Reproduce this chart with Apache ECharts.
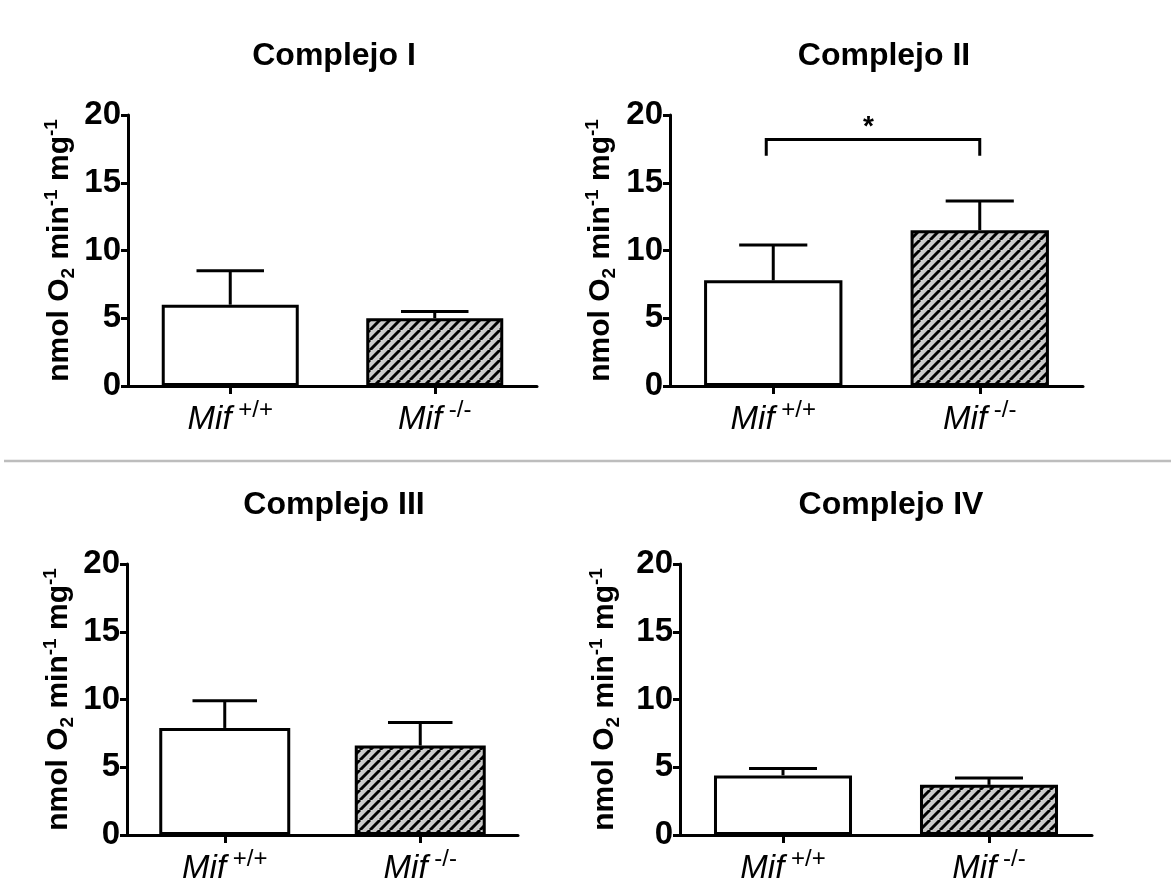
<!DOCTYPE html>
<html>
<head>
<meta charset="utf-8">
<script src="https://cdn.jsdelivr.net/npm/echarts@6.0.0/dist/echarts.min.js"></script>
<style>
html, body { margin: 0; padding: 0; background: #ffffff; }
#chart { width: 1171px; height: 880px; }
</style>
</head>
<body>
<div id="chart"></div>
<script>
// ---------- data ----------
const genotypes = ['+/+', '-/-'];
const panelTitles = ['Complejo I', 'Complejo II', 'Complejo III', 'Complejo IV'];
const yTicks = [0, 5, 10, 15, 20];

const meanI = [6.0, 5.0];
const semI = [2.5, 0.5];
const meanII = [7.8, 11.5];
const semII = [2.6, 2.15];
const meanIII = [7.9, 6.6];
const semIII = [2.0, 1.7];
const meanIV = [4.4, 3.7];
const semIV = [0.5, 0.5];

// significance bracket in Complejo II: [fromCat, toCat, legBottom, barLevel, starLevel, label]
const sigII = [[0, 1, 17.0, 18.2, 19.1, '*']];

const means = [meanI, meanII, meanIII, meanIV];
const sems = [semI, semII, semIII, semIV];

// ---------- layout / style ----------
const FONT = 'Liberation Sans, Arial, Helvetica, sans-serif';
const grids = [
  { left: 128, top: 115, width: 409, height: 271 },
  { left: 670, top: 115, width: 413, height: 271 },
  { left: 127, top: 564, width: 391, height: 271 },
  { left: 680, top: 564, width: 412, height: 271 }
];
const titleX = [329, 879, 329, 886];
const titleTop = [35, 35, 484, 484];
const nameGaps = [50, 51, 50, 57];

function hatchCanvas() {
  const s = 10;
  const c = document.createElement('canvas');
  c.width = s; c.height = s;
  const g = c.getContext('2d');
  g.fillStyle = '#c9c9c9';
  g.fillRect(0, 0, s, s);
  g.strokeStyle = '#000000';
  g.lineWidth = 3;
  g.beginPath();
  for (const k of [-s, 0, s]) {
    g.moveTo(k, s);
    g.lineTo(k + s, 0);
  }
  g.stroke();
  return c;
}
const hatchFill = { image: hatchCanvas(), repeat: 'repeat' };

const axisName = '{m|nmol O}{sub|2}{m| min}{sup|-1}{m| mg}{sup|-1}';

const option = {
  backgroundColor: '#ffffff',
  animation: false,
  title: panelTitles.map((t, i) => ({
    text: t,
    left: titleX[i],
    top: titleTop[i],
    textAlign: 'center',
    textStyle: { fontSize: 32, fontWeight: 'bold', fontFamily: FONT, color: '#000' }
  })),
  grid: grids.map(g => Object.assign({ containLabel: false, outerBoundsMode: 'none' }, g)),
  xAxis: grids.map((g, i) => ({
    type: 'category',
    gridIndex: i,
    data: genotypes,
    axisLine: { show: true, lineStyle: { color: '#000', width: 3 } },
    axisTick: { show: true, alignWithLabel: true, length: 8, lineStyle: { color: '#000', width: 3 } },
    axisLabel: {
      margin: 12,
      interval: 0,
      formatter: v => '{i|Mif}{s| ' + v + '}',
      rich: {
        i: { fontStyle: 'italic', fontSize: 33, fontFamily: FONT, color: '#000', lineHeight: 38, verticalAlign: 'bottom' },
        s: { fontSize: 24, fontFamily: FONT, color: '#000', lineHeight: 24, verticalAlign: 'top' }
      }
    },
    splitLine: { show: false }
  })),
  yAxis: grids.map((g, i) => ({
    type: 'value',
    gridIndex: i,
    min: yTicks[0],
    max: yTicks[yTicks.length - 1],
    interval: yTicks[1] - yTicks[0],
    axisLine: { show: true, lineStyle: { color: '#000', width: 3 } },
    axisTick: { show: true, length: 7, lineStyle: { color: '#000', width: 3 } },
    axisLabel: { fontSize: 33, fontWeight: 'bold', fontFamily: FONT, color: '#000', margin: 7 },
    splitLine: { show: false },
    name: axisName,
    nameLocation: 'middle',
    nameRotate: 90,
    nameGap: nameGaps[i],
    nameMoveOverlap: false,
    nameTextStyle: {
      rich: {
        m: { fontSize: 30, fontWeight: 'bold', fontFamily: FONT, color: '#000', lineHeight: 36 },
        sub: { fontSize: 19, fontWeight: 'bold', fontFamily: FONT, color: '#000', lineHeight: 19, verticalAlign: 'bottom' },
        sup: { fontSize: 19, fontWeight: 'bold', fontFamily: FONT, color: '#000', lineHeight: 19, verticalAlign: 'top' }
      }
    }
  })),
  graphic: [{
    type: 'line',
    shape: { x1: 4, y1: 461, x2: 1171, y2: 461 },
    style: { stroke: '#bdbdbd', lineWidth: 2.5 },
    silent: true
  }],
  series: []
};

means.forEach((m, i) => {
  option.series.push({
    type: 'bar',
    xAxisIndex: i,
    yAxisIndex: i,
    barCategoryGap: '33%',
    data: m.map((v, k) => ({
      value: v,
      itemStyle: { color: k === 0 ? '#ffffff' : hatchFill, borderColor: '#000', borderWidth: 3 }
    })),
    z: 2
  });
  option.series.push({
    type: 'custom',
    xAxisIndex: i,
    yAxisIndex: i,
    data: m.map((v, k) => [k, v, v + sems[i][k]]),
    encode: { x: 0, y: [1, 2] },
    z: 3,
    renderItem: (params, api) => {
      const lo = api.coord([api.value(0), api.value(1)]);
      const hi = api.coord([api.value(0), api.value(2)]);
      const hw = api.size([1, 0])[0] * 0.165;
      return {
        type: 'group',
        children: [
          { type: 'line', shape: { x1: lo[0], y1: lo[1], x2: hi[0], y2: hi[1] }, style: { stroke: '#000', lineWidth: 3 } },
          { type: 'line', shape: { x1: hi[0] - hw, y1: hi[1], x2: hi[0] + hw, y2: hi[1] }, style: { stroke: '#000', lineWidth: 3 } }
        ]
      };
    }
  });
});

option.series.push({
  type: 'custom',
  xAxisIndex: 1,
  yAxisIndex: 1,
  data: sigII,
  encode: { x: [0, 1], y: [2, 3, 4] },
  z: 4,
  renderItem: (params, api) => {
    const a = api.coord([api.value(0), api.value(2)]);
    const b = api.coord([api.value(0), api.value(3)]);
    const c = api.coord([api.value(1), api.value(3)]);
    const d = api.coord([api.value(1), api.value(2)]);
    const s = api.coord([api.value(0), api.value(4)]);
    const label = sigII[params.dataIndex][5];
    const off = 7;
    return {
      type: 'group',
      children: [
        { type: 'polyline', shape: { points: [[a[0] - off, a[1]], [b[0] - off, b[1]], c, d] }, style: { stroke: '#000', lineWidth: 3, fill: null } },
        { type: 'text', style: { text: label, x: (b[0] + c[0]) / 2 - 8, y: s[1], textAlign: 'center', textVerticalAlign: 'middle', font: 'bold 28px ' + FONT, fill: '#000' } }
      ]
    };
  }
});

const chart = echarts.init(document.getElementById('chart'), null, { renderer: 'canvas' });
chart.setOption(option);
</script>
</body>
</html>
